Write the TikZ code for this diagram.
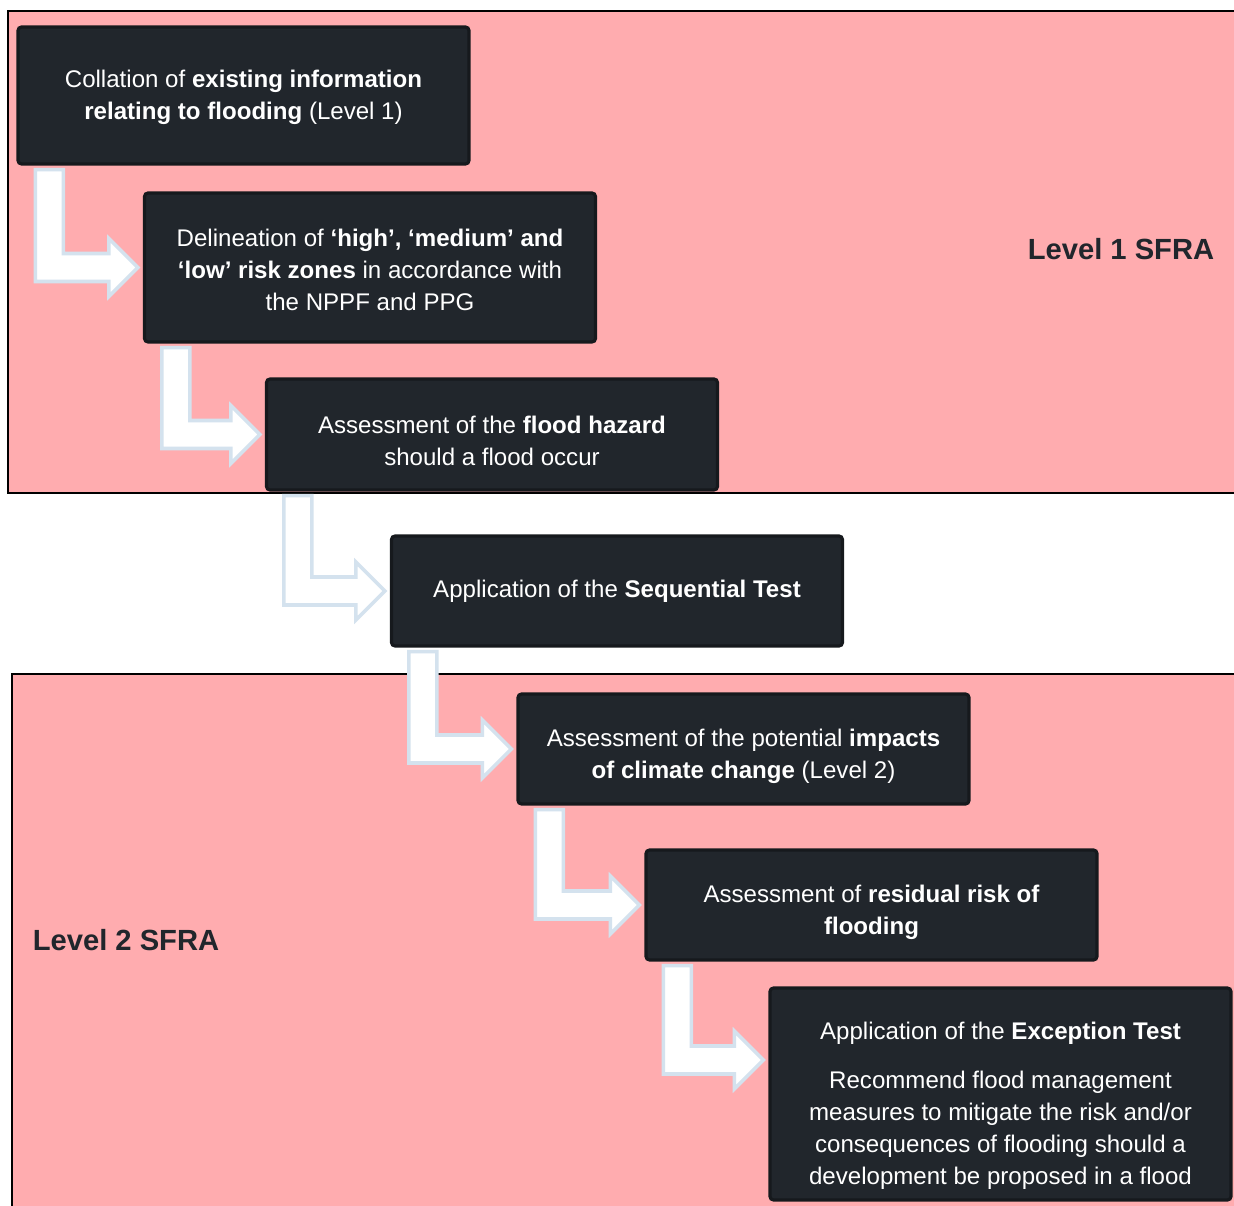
\documentclass[tikz,border=0pt]{standalone}
\usepackage{fontspec}
\setmainfont{Liberation Sans}
\usetikzlibrary{calc}

\definecolor{sfrapink}{RGB}{255,172,175}
\definecolor{boxfill}{RGB}{33,38,44}
\definecolor{boxedge}{RGB}{22,25,29}
\definecolor{arrowedge}{RGB}{212,226,238}
\definecolor{labeltext}{RGB}{33,38,44}

\tikzset{
	stagebox/.style={draw=boxedge, fill=boxfill, line width=0.9pt, rounded corners=1pt, text=white, align=center, inner sep=0pt, minimum width=45.1mm, font=\fontsize{6.85}{9.1}\selectfont},
	flowarrow/.style={draw=arrowedge, fill=white, line width=1pt, line join=miter},
	region/.style={draw=black, fill=sfrapink, line width=0.4pt},
	levellabel/.style={text=labeltext, font=\fontsize{8.3}{10}\selectfont\bfseries, inner sep=0pt}
}

% pushes the text of a box a little down
\newcommand{\lowtext}[1]{\rule{0pt}{#1}}

% bent arrow from under one box to a point left of the next
\newcommand{\bentarrow}[2]{%
	\draw[flowarrow] ($(#1.south west)+(19,4)$) coordinate (tail) -- ++(28,0) |- ($(#2)+(-34,-14)$) -- ++(0,-15) -- ($(#2)+(-5,0)$) -- ++(-29,29) -- ++(0,-15) -| (tail) -- cycle;}

\begin{document}
\begin{tikzpicture}[x=0.1mm, y=-0.1mm]
	\useasboundingbox (0,0) rectangle (1234,1206);
	\fill[white] (0,0) rectangle (1234,1206);

	% the two levels
	\draw[region] (8,11) rectangle (1240,493);
	\draw[region] (12,674) rectangle (1240,1212);
	\node[levellabel] (lvlone) at (1121,249) {Level 1 SFRA};
	\node[levellabel] (lvltwo) at (126,940) {Level 2 SFRA};

	% stages
	\node[stagebox, minimum height=13.7mm] (collate) at (243.5,95.5) {\lowtext{6.1pt}Collation of \textbf{existing information}\\ \textbf{relating to flooding} (Level 1)};
	\node[stagebox, minimum height=14.9mm] (delin) at (370,267.5) {\lowtext{6.1pt}Delineation of \textbf{‘high’, ‘medium’ and}\\ \textbf{‘low’ risk zones} in accordance with\\ the NPPF and PPG};
	\node[stagebox, minimum height=11.1mm] (hazard) at (492,434.5) {\lowtext{8.4pt}Assessment of the \textbf{flood hazard}\\ should a flood occur};
	\node[stagebox, minimum height=11mm] (seqtest) at (617,591) {Application of the \textbf{Sequential Test}};
	\node[stagebox, minimum height=11mm] (climate) at (743.5,749) {\lowtext{9.4pt}Assessment of the potential \textbf{impacts}\\ \textbf{of climate change} (Level 2)};
	\node[stagebox, minimum height=11mm] (residual) at (871.5,905) {\lowtext{9.4pt}Assessment of \textbf{residual risk of}\\ \textbf{flooding}};
	\node[stagebox, minimum height=21.2mm, minimum width=46.1mm] (exctest) at (1000.5,1094) {\lowtext{11.8pt}Application of the \textbf{Exception Test}\\[4.8pt] Recommend flood management\\ measures to mitigate the risk and/or\\ consequences of flooding should a\\ development be proposed in a flood};
	\coordinate (excin) at ($(exctest.west)+(0,-34)$);

	% arrows
	\bentarrow{collate}{delin.west}
	\bentarrow{delin}{hazard.west}
	\bentarrow{hazard}{seqtest.west}
	\bentarrow{seqtest}{climate.west}
	\bentarrow{climate}{residual.west}
	\bentarrow{residual}{excin}
\end{tikzpicture}
\end{document}
